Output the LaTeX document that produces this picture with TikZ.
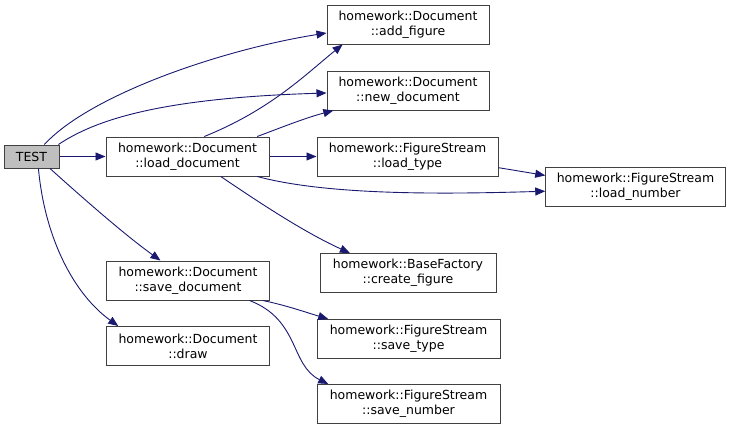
\documentclass[tikz,border=0pt]{standalone}
\usepackage{fontspec}
\setmainfont{DejaVu Sans}
\usetikzlibrary{arrows.meta, positioning}

\definecolor{edgeblue}{RGB}{25,25,112}
\definecolor{rootgray}{RGB}{191,191,191}

\begin{document}
\begin{tikzpicture}[
    x=1pt, y=-1pt,
    func/.style={draw=black!75, line width=1pt, fill=white, align=center,
        minimum height=39pt, inner xsep=11pt,
        font=\fontsize{12.5}{15}\selectfont},
    call/.style={draw=edgeblue, line width=0.9pt,
        -{Triangle[length=10pt, width=8pt]}}
]

    % 1. Area of the picture
    \useasboundingbox (0,0) rectangle (736,431);

    % 2. Function boxes
    \node[func, fill=rootgray, minimum height=23pt, minimum width=55pt, inner xsep=4pt] (test) at (31.5,156.5) {TEST};

    \node[func, minimum width=163pt] (loaddoc) at (187.5,156.5) {homework::Document\\::load\_document};
    \node[func, minimum width=163pt] (savedoc) at (188,280.5) {homework::Document\\::save\_document};
    \node[func, minimum width=163pt] (drawdoc) at (188,346) {homework::Document\\::draw};

    \node[func, minimum width=162pt] (addfig) at (408,24.5) {homework::Document\\::add\_figure};
    \node[func, minimum width=162pt] (newdoc) at (408,90.5) {homework::Document\\::new\_document};
    \node[func, minimum width=181pt] (loadtype) at (407.5,156.5) {homework::FigureStream\\::load\_type};
    \node[func, minimum width=176pt] (createfig) at (408,273) {homework::BaseFactory\\::create\_figure};
    \node[func, minimum width=183pt] (savetype) at (408.5,339) {homework::FigureStream\\::save\_type};
    \node[func, minimum width=183pt] (savenum) at (408.5,404) {homework::FigureStream\\::save\_number};

    \node[func, minimum width=177pt] (loadnum) at (635.5,186.5) {homework::FigureStream\\::load\_number};

    % 3. Calls made by TEST
    \draw[call] (test.43) .. controls (90,95) and (220,50) .. (addfig.west |- 0,33);
    \draw[call] (test.24) .. controls (95,120) and (160,98) .. (newdoc.west |- 0,93);
    \draw[call] (test.east) -- (loaddoc.west);
    \draw[call] (test.327) .. controls (85,200) and (125,235) .. (savedoc.144);
    \draw[call] (test.300) .. controls (45,240) and (75,295) .. (drawdoc.164);

    % 4. Calls made by load_document
    \draw[call] (loaddoc.50) .. controls (270,110) and (305,75) .. (addfig.197);
    \draw[call] (loaddoc.16) .. controls (280,128) and (305,118) .. (newdoc.195);
    \draw[call] (loaddoc.east) -- (loadtype.west);
    \draw[call] (loaddoc.344) .. controls (330,196) and (450,194) .. (loadnum.183);
    \draw[call] (loaddoc.329) .. controls (270,210) and (310,235) .. (createfig.161);

    % 5. Calls made by load_type
    \draw[call] (loadtype.353) -- (loadnum.173);

    % 6. Calls made by save_document
    \draw[call] (savedoc.345) .. controls (285,305) and (305,312) .. (savetype.166);
    \draw[call] (savedoc.342) .. controls (300,320) and (290,365) .. (savenum.166);

\end{tikzpicture}
\end{document}
